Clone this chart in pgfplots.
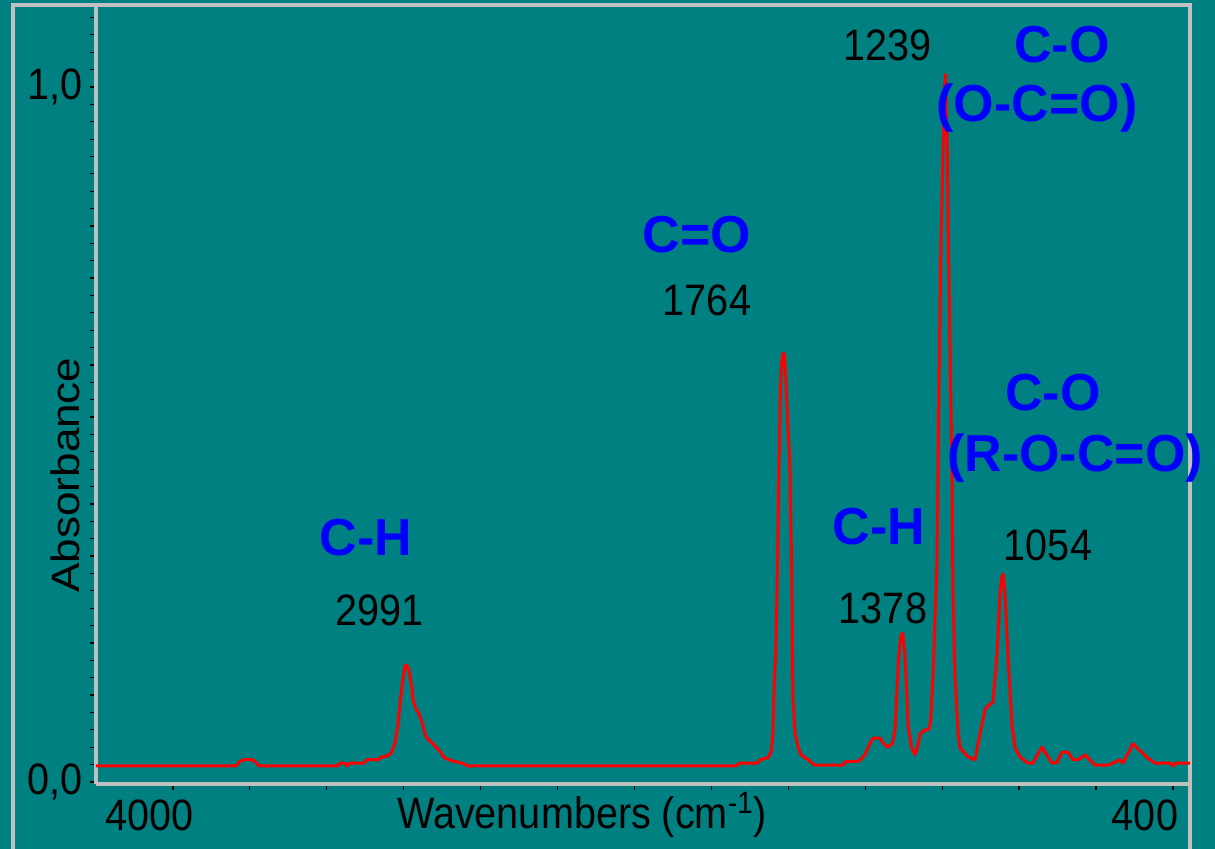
\documentclass[border=0pt]{standalone}
\usepackage{pgfplots}
\pgfplotsset{compat=1.18}
\usepackage{fontspec}
\setmainfont{Liberation Sans}
\definecolor{bgteal}{HTML}{008080}
\definecolor{framegray}{HTML}{C0C0C0}
\definecolor{specred}{HTML}{FF0000}
\definecolor{labblue}{HTML}{0000FF}
\tikzset{
  lab/.style={font=\fontsize{22}{22}\selectfont, xscale=0.9, inner sep=0pt},
  blab/.style={font=\fontsize{26}{26}\selectfont\bfseries, text=labblue, inner sep=0pt},
}
\pgfplotstableread{
wn absb
4000 0.023
3545 0.023
3532 0.030
3515 0.032
3490 0.032
3478 0.027
3470 0.023
3215 0.023
3207 0.027
3190 0.027
3185 0.023
3175 0.027
3130 0.027
3119 0.032
3080 0.032
3077 0.035
3050 0.038
3040 0.042
3028 0.056
3018 0.085
3010 0.12
3005 0.140
2995 0.168
2991 0.168
2983 0.161
2975 0.14
2968 0.115
2960 0.105
2950 0.098
2940 0.085
2930 0.068
2924 0.063
2910 0.057
2895 0.050
2882 0.044
2870 0.036
2859 0.033
2840 0.030
2810 0.027
2800 0.025
2794 0.023
1920 0.023
1907 0.027
1850 0.027
1842 0.032
1815 0.035
1805 0.045
1800 0.07
1797 0.122
1790 0.20
1787 0.266
1780 0.459
1776 0.56
1772 0.60
1767 0.617
1763 0.615
1758 0.58
1752 0.52
1745 0.459
1740 0.33
1738 0.266
1735 0.122
1728 0.07
1718 0.050
1710 0.040
1700 0.036
1685 0.032
1665 0.024
1572 0.024
1566 0.029
1520 0.030
1501 0.039
1485 0.055
1475 0.063
1452 0.063
1440 0.055
1426 0.050
1412 0.055
1403 0.075
1395 0.150
1390 0.185
1384 0.210
1378 0.214
1372 0.19
1366 0.14
1361 0.082
1350 0.050
1338 0.039
1330 0.050
1322 0.069
1306 0.075
1295 0.075
1288 0.085
1280 0.148
1267 0.312
1260 0.577
1254 0.775
1248 0.886
1242 1.000
1239 1.018
1236 0.95
1233 0.906
1230 0.788
1225 0.643
1218 0.445
1215 0.279
1208 0.148
1198 0.07
1192 0.049
1166 0.036
1143 0.032
1127 0.069
1110 0.105
1104 0.108
1085 0.115
1078 0.150
1072 0.181
1062 0.270
1056 0.295
1052 0.299
1046 0.273
1036 0.181
1023 0.082
1013 0.049
997 0.036
971 0.027
955 0.027
926 0.050
893 0.027
877 0.028
860 0.043
841 0.043
825 0.032
808 0.032
786 0.039
753 0.024
711 0.024
672 0.032
662 0.027
630 0.055
584 0.035
558 0.027
509 0.027
500 0.023
493 0.027
445 0.027
}\spectrum
\begin{document}
\begin{tikzpicture}
\fill[bgteal] (-48pt,-32.5pt) rectangle (559.5pt,392pt);
\draw[framegray, line width=2pt] (-41.5pt,-32.5pt) -- (-41.5pt,389.5pt) -- (547pt,389.5pt) -- (547pt,-32.5pt);
\begin{axis}[
  scale only axis, width=547pt, height=389.5pt,
  x dir=reverse, xmin=444.5, xmax=4000, ymin=-0.003, ymax=1.118,
  axis x line*=bottom, axis y line*=left,
  axis line style={framegray, line width=2pt, -},
  xtick={500,750,...,3750}, xticklabels={},
  ytick={0,1}, yticklabels={{0,0},{1,0}},
  minor ytick={0,0.025,...,1.11},
  tick style={black, line width=0.6pt},
  major tick length=3pt, minor tick length=3pt,
  tick align=outside,
  clip=false,
  yticklabel style={font=\fontsize{22}{22}\selectfont, text=black, xshift=-0.5pt, xscale=0.9},
]
\addplot[specred, line width=1.5pt, line join=round] table[x=wn, y=absb] {\spectrum};
\node[lab] at (axis cs:2420.5,-0.0475) {Wavenumbers (cm\textsuperscript{-1})};
\node[lab] at (axis cs:3824.5,-0.0475) {4000};
\node[lab] at (axis cs:590.75,-0.0475) {400};
\node[font=\fontsize{22}{22}\selectfont, rotate=90, yscale=0.9, inner sep=0pt] at (axis cs:4100.75,0.4417) {Absorbance};
\node[lab] at (axis cs:1429,1.0604) {1239};
\node[lab] at (axis cs:2014.25,0.6935) {1764};
\node[lab] at (axis cs:906,0.341) {1054};
\node[lab] at (axis cs:1442.25,0.2504) {1378};
\node[lab] at (axis cs:3077,0.2475) {2991};
\node[blab] at (axis cs:860.5,1.0604) {C-O};
\node[blab] at (axis cs:941.75,0.9698) {(O-C=O)};
\node[blab] at (axis cs:2046.75,0.787) {C=O};
\node[blab] at (axis cs:889.75,0.5597) {C-O};
\node[blab] at (axis cs:818.25,0.4662) {(R-O-C=O)};
\node[blab] at (axis cs:1455.25,0.3669) {C-H};
\node[blab] at (axis cs:3122.5,0.3511) {C-H};
\end{axis}
\pgfresetboundingbox
\path (-48pt,-32.5pt) rectangle (559.5pt,392pt);
\end{tikzpicture}
\end{document}
